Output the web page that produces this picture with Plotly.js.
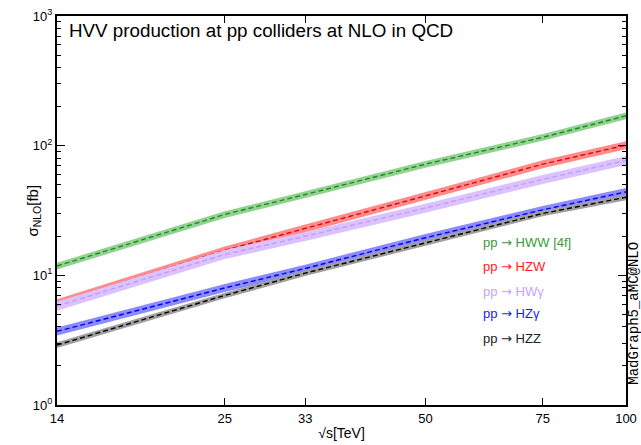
<!DOCTYPE html>
<html>
<head>
<meta charset="utf-8">
<script src="https://cdn.plot.ly/plotly-3.0.1.min.js"></script>
<style>
  html, body { margin: 0; padding: 0; background: #fff; }
  #chart { width: 641px; height: 445px; }
</style>
</head>
<body>
<div id="chart"></div>
<script>
// ---- data ----
const energies = [14, 25, 33, 50, 75, 100];          // sqrt(s) [TeV]
const tickVals = [14, 25, 33, 50, 75, 100];
const tickText = ['14', '25', '33', '50', '75', '100'];

const xsHWW = [11.8, 29.5, 42, 72, 116, 170];         // fb
const xsHZW = [6.1, 15.6, 23, 41, 72, 101];
const xsHWA = [5.8, 14.5, 20, 33, 55, 77];
const xsHZA = [3.7, 8.0, 11.3, 19.5, 32, 44];
const xsHZZ = [2.9, 7.0, 10.4, 17.8, 30, 40];

// relative scale uncertainty (fraction) of each band
const uncHWW = [0.06, 0.06, 0.06, 0.06, 0.06, 0.06];
const uncHZW = [0.07, 0.07, 0.07, 0.07, 0.07, 0.07];
const uncHWA = [0.08, 0.08, 0.08, 0.08, 0.08, 0.08];
const uncHZA = [0.07, 0.07, 0.07, 0.07, 0.07, 0.07];
const uncHZZ = [0.05, 0.05, 0.05, 0.05, 0.05, 0.05];

const procs = ['HWW [4f]', 'HZW', 'HW\u03B3', 'HZ\u03B3', 'HZZ'];

// ---- styling ----
const series = [
  {y: xsHWW, u: uncHWW, band: '#94d294', line: '#1e8c1e', text: '#3a9a3a'},
  {y: xsHZW, u: uncHZW, band: '#ff8c8c', line: '#e80000', text: '#ff1a1a'},
  {y: xsHWA, u: uncHWA, band: '#dcc2ff', line: '#c09cff', text: '#c8a2ff'},
  {y: xsHZA, u: uncHZA, band: '#8c8cff', line: '#0000ee', text: '#1a1aff'},
  {y: xsHZZ, u: uncHZZ, band: '#a0a0a0', line: '#000000', text: '#222222'}
];

const traces = [];
series.forEach(s => {
  const lo = s.y.map((v, i) => v * (1 - s.u[i]));
  const hi = s.y.map((v, i) => v * (1 + s.u[i]));
  traces.push({x: energies, y: lo, mode: 'lines', line: {width: 0, color: s.band}, hoverinfo: 'skip', showlegend: false});
  traces.push({x: energies, y: hi, mode: 'lines', line: {width: 0, color: s.band}, fill: 'tonexty', fillcolor: s.band, hoverinfo: 'skip', showlegend: false});
  traces.push({x: energies, y: s.y, mode: 'lines', line: {width: 1.4, color: s.line, dash: '5px,3px'}, showlegend: false});
});

const FONT = 'Liberation Sans, Arial, Helvetica, sans-serif';
const annotations = [
  {text: 'HVV production at pp colliders at NLO in QCD', xref: 'paper', yref: 'paper', x: 0.018, y: 0.962,
   xanchor: 'left', yanchor: 'middle', showarrow: false, font: {family: FONT, size: 18.8, color: '#000'}},
  {text: 'MadGraph5_aMC@NLO', xref: 'paper', yref: 'paper', x: 1.0135, y: 0.2365, textangle: -90,
   xanchor: 'center', yanchor: 'middle', showarrow: false, font: {family: 'Liberation Mono, Courier New, monospace', size: 14, color: '#000'}},
  {text: '\u03C3<sub>NLO</sub>[fb]', xref: 'paper', yref: 'paper', x: -0.042, y: 0.5, textangle: -90,
   xanchor: 'center', yanchor: 'middle', showarrow: false, font: {family: FONT, size: 15, color: '#000'}}
];
const legY = [0.4165, 0.3548, 0.293, 0.234, 0.172];
procs.forEach((p, i) => {
  annotations.push({text: 'pp <span style="font-family:DejaVu Sans">\u2192</span> ' + p,
    xref: 'paper', yref: 'paper', x: 0.745, y: legY[i], xanchor: 'left', yanchor: 'middle',
    showarrow: false, font: {family: FONT, size: 13, color: series[i].text}});
});

const layout = {
  width: 641, height: 445,
  margin: {l: 57, r: 15, t: 16, b: 40},
  paper_bgcolor: '#fff', plot_bgcolor: '#fff',
  font: {family: FONT, size: 13, color: '#000'},
  showlegend: false,
  xaxis: {
    type: 'log', range: [Math.log10(14), 2],
    tickvals: tickVals, ticktext: tickText,
    ticks: 'inside', ticklen: 7, tickwidth: 1, tickcolor: '#000',
    showline: true, linewidth: 2, linecolor: '#000', mirror: 'ticks',
    showgrid: false, zeroline: false,
    tickfont: {family: FONT, size: 13},
    title: {text: '\u221As[TeV]', font: {family: FONT, size: 14}, standoff: 4}
  },
  yaxis: {
    type: 'log', range: [0, 3],
    tickvals: [1, 10, 100, 1000],
    ticktext: ['10<sup>0</sup>', '10<sup>1</sup>', '10<sup>2</sup>', '10<sup>3</sup>'],
    ticks: 'inside', ticklen: 8, tickwidth: 1, tickcolor: '#000',
    minor: {dtick: 'D1', ticks: 'inside', ticklen: 4, tickcolor: '#000', showgrid: false},
    showline: true, linewidth: 2, linecolor: '#000', mirror: 'ticks',
    showgrid: false, zeroline: false,
    tickfont: {family: FONT, size: 13}
  },
  annotations: annotations
};

Plotly.newPlot('chart', traces, layout, {staticPlot: true, displayModeBar: false});
</script>
</body>
</html>
